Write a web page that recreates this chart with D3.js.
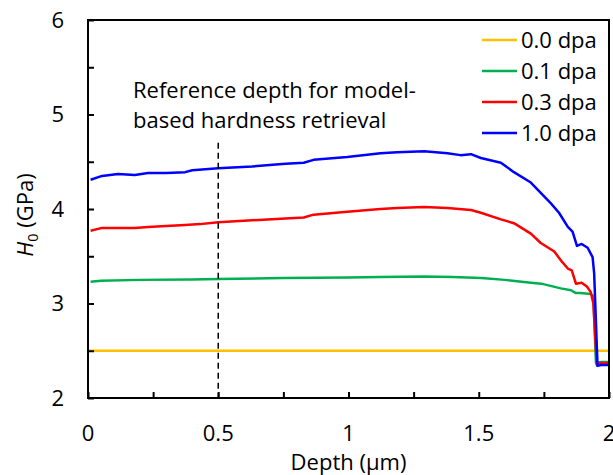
<!DOCTYPE html>
<html>
<head>
<meta charset="utf-8">
<script src="https://cdnjs.cloudflare.com/ajax/libs/d3/7.8.5/d3.min.js"></script>
<style>
  html, body { margin: 0; padding: 0; background: #fff; }
  svg { display: block; font-family: "Open Sans", Lato, sans-serif; }
</style>
</head>
<body>
<svg id="chart" width="613" height="475"></svg>
<script>
// ---- data ----
const seriesNames = ["0.0 dpa", "0.1 dpa", "0.3 dpa", "1.0 dpa"];
const seriesColors = ["#FFC000", "#00B050", "#FF0000", "#0000FF"];

const depth00 = [0, 1, 2.0];
const h00     = [2.5, 2.5, 2.5];

const depth01 = [0.01, 0.05, 0.2, 0.4, 0.5, 0.75, 1.0, 1.12, 1.29, 1.4, 1.51, 1.6, 1.7, 1.74, 1.815, 1.854, 1.873, 1.89, 1.93, 1.94, 1.95, 1.97, 2.0];
const h01     = [3.23, 3.24, 3.25, 3.255, 3.26, 3.27, 3.275, 3.28, 3.285, 3.28, 3.27, 3.25, 3.22, 3.21, 3.16, 3.14, 3.11, 3.11, 3.10, 3.08, 2.37, 2.38, 2.38];

const depth03 = [0.01, 0.054, 0.115, 0.18, 0.23, 0.3, 0.373, 0.43, 0.5, 0.63, 0.758, 0.828, 0.866, 0.995, 1.123, 1.187, 1.29, 1.38, 1.47, 1.508, 1.585, 1.635, 1.70, 1.738, 1.79, 1.82, 1.842, 1.857, 1.873, 1.895, 1.915, 1.93, 1.94, 1.953, 1.965, 2.0];
const h03     = [3.77, 3.80, 3.80, 3.80, 3.81, 3.82, 3.83, 3.84, 3.86, 3.88, 3.90, 3.91, 3.94, 3.97, 4.00, 4.01, 4.02, 4.01, 3.99, 3.96, 3.89, 3.85, 3.74, 3.64, 3.55, 3.44, 3.37, 3.35, 3.21, 3.22, 3.18, 3.12, 3.00, 2.35, 2.37, 2.37];

const depth10 = [0.01, 0.054, 0.115, 0.18, 0.23, 0.3, 0.373, 0.4, 0.5, 0.63, 0.758, 0.828, 0.866, 0.995, 1.123, 1.187, 1.29, 1.38, 1.43, 1.47, 1.508, 1.585, 1.635, 1.70, 1.738, 1.777, 1.808, 1.842, 1.86, 1.877, 1.895, 1.918, 1.937, 1.943, 1.956, 1.97, 2.0];
const h10     = [4.31, 4.35, 4.37, 4.36, 4.38, 4.38, 4.39, 4.41, 4.43, 4.45, 4.48, 4.49, 4.52, 4.55, 4.59, 4.60, 4.61, 4.59, 4.57, 4.58, 4.54, 4.49, 4.39, 4.28, 4.17, 4.06, 3.96, 3.81, 3.76, 3.61, 3.63, 3.59, 3.49, 3.32, 2.34, 2.35, 2.35];

const xTickValues = [0, 0.5, 1, 1.5, 2];
const xTickLabels = ["0", "0.5", "1", "1.5", "2"];
const yTickValues = [2, 3, 4, 5, 6];
const yTickLabels = ["2", "3", "4", "5", "6"];
const refDepth = 0.5;
const refTop = 4.70;
const noteLines = ["Reference depth for model-", "based hardness retrieval"];

// ---- build ----
const series = [
  {name: seriesNames[0], color: seriesColors[0], pts: depth00.map((d, i) => [d, h00[i]])},
  {name: seriesNames[1], color: seriesColors[1], pts: depth01.map((d, i) => [d, h01[i]])},
  {name: seriesNames[2], color: seriesColors[2], pts: depth03.map((d, i) => [d, h03[i]])},
  {name: seriesNames[3], color: seriesColors[3], pts: depth10.map((d, i) => [d, h10[i]])}
];

const svg = d3.select("#chart");
const L = 88, R = 609, T = 20, B = 398;
const x = d3.scaleLinear().domain([0, 2]).range([L, R]);
const y = d3.scaleLinear().domain([2, 6]).range([B, T]);
const fs = 22;

// series lines
const line = d3.line().x(d => x(d[0])).y(d => y(d[1]));
svg.append("g").selectAll("path").data(series).join("path")
  .attr("d", d => line(d.pts))
  .attr("fill", "none")
  .attr("stroke", d => d.color)
  .attr("stroke-width", 2.5)
  .attr("stroke-linejoin", "round");

// reference dashed line
svg.append("line")
  .attr("x1", x(refDepth)).attr("x2", x(refDepth))
  .attr("y1", y(refTop)).attr("y2", y(2))
  .attr("stroke", "#000").attr("stroke-width", 1.5)
  .attr("stroke-dasharray", "6,4");

// frame
svg.append("rect")
  .attr("x", L).attr("y", T).attr("width", R - L).attr("height", B - T)
  .attr("fill", "none").attr("stroke", "#000").attr("stroke-width", 2);

// x axis (ticks inward)
const xMinor = d3.range(0, 2.001, 0.25);
svg.append("g").attr("transform", `translate(0,${B})`)
  .call(d3.axisBottom(x).tickValues(xMinor).tickSize(-6).tickFormat(""))
  .call(g => g.select(".domain").remove())
  .call(g => g.selectAll(".tick line").attr("stroke", "#000").attr("stroke-width", 2));
svg.append("g").selectAll("text").data(xTickValues).join("text")
  .attr("x", d => x(d)).attr("y", 441)
  .attr("text-anchor", "middle")
  .attr("font-size", fs).attr("fill", "#000")
  .text((d, i) => xTickLabels[i]);

// y axis (ticks inward)
const yMinor = d3.range(2, 6.001, 0.5);
svg.append("g").attr("transform", `translate(${L},0)`)
  .call(d3.axisLeft(y).tickValues(yMinor).tickSize(-6).tickFormat(""))
  .call(g => g.select(".domain").remove())
  .call(g => g.selectAll(".tick line").attr("stroke", "#000").attr("stroke-width", 2));
svg.append("g").selectAll("text").data(yTickValues).join("text")
  .attr("x", 64).attr("y", d => y(d)).attr("dy", "0.36em")
  .attr("text-anchor", "end")
  .attr("font-size", fs).attr("fill", "#000")
  .text((d, i) => yTickLabels[i]);

// axis titles
svg.append("text")
  .attr("x", (L + R) / 2).attr("y", 470)
  .attr("text-anchor", "middle").attr("font-size", fs).attr("fill", "#000")
  .text("Depth (μm)");
const yt = svg.append("text")
  .attr("transform", "translate(33,215) rotate(-90)")
  .attr("text-anchor", "middle").attr("font-size", fs).attr("fill", "#000");
yt.append("tspan").attr("font-style", "italic").text("H");
yt.append("tspan").attr("font-size", fs * 0.65).attr("dy", 5).text("0");
yt.append("tspan").attr("dy", -5).text(" (GPa)");

// annotation
svg.append("g").selectAll("text").data(noteLines).join("text")
  .attr("x", 133).attr("y", (d, i) => 98 + i * 30)
  .attr("font-size", fs).attr("fill", "#000")
  .text(d => d);

// legend
const lg = svg.append("g").selectAll("g").data(series).join("g")
  .attr("transform", (d, i) => `translate(482,${40 + i * 31})`);
lg.append("line").attr("x1", 0).attr("x2", 35).attr("y1", 0).attr("y2", 0)
  .attr("stroke", d => d.color).attr("stroke-width", 2.5);
lg.append("text").attr("x", 39).attr("dy", "0.36em")
  .attr("font-size", fs).attr("fill", "#000")
  .text(d => d.name);
</script>
</body>
</html>
